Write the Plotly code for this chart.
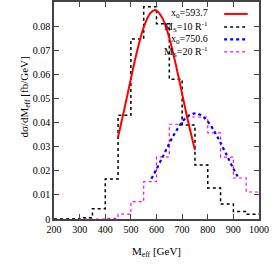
import plotly.graph_objects as go

# Histogram bin edges (GeV)
edges = list(range(200, 1001, 50))
# M_S = 10 R^-1 histogram (black dotted)
ms10_vals = [0.0, 0.0, 0.0005, 0.0043, 0.0166, 0.043, 0.0747, 0.088,
             0.081, 0.058, 0.039, 0.0224, 0.0129, 0.0062, 0.0031, 0.002]
# M_S = 20 R^-1 histogram (magenta dotted)
ms20_vals = [0.0, 0.0, 0.0, 0.0, 0.0003, 0.002, 0.0072, 0.0155,
             0.0258, 0.0393, 0.0423, 0.0423, 0.0357, 0.0257, 0.017, 0.0112]

# Gaussian fit x0=593.7 (red)
fit1_x = [450, 475, 500, 525, 550, 575, 593.7, 600, 625, 650, 675, 700, 725, 750]
fit1_y = [0.034, 0.0458, 0.0582, 0.070, 0.0795, 0.0853, 0.0867, 0.0865,
          0.0829, 0.0751, 0.0642, 0.0519, 0.0397, 0.0286]
# Gaussian fit x0=750.6 (blue)
fit2_x = [580, 600, 620, 640, 660, 680, 700, 720, 740, 750.6, 760, 780, 800,
          820, 840, 860, 880, 900, 920]
fit2_y = [0.0167, 0.0207, 0.0249, 0.0292, 0.0334, 0.0371, 0.0402, 0.0425,
          0.0436, 0.0438, 0.0437, 0.0426, 0.0404, 0.0374, 0.0336, 0.0295,
          0.0252, 0.0209, 0.0170]

x_ticks = [200, 300, 400, 500, 600, 700, 800, 900, 1000]
y_ticks = [0, 0.01, 0.02, 0.03, 0.04, 0.05, 0.06, 0.07, 0.08, 0.09]

legend_labels = ["x<sub>0</sub>=593.7", "M<sub>S</sub>=10 R<sup>-1</sup>",
                 "x<sub>0</sub>=750.6", "M<sub>S</sub>=20 R<sup>-1</sup>"]
colors = ["#ff0000", "#000000", "#0000ff", "#ff00ff"]
dashes = ["solid", "dot", "dot", "dot"]
widths = [2, 1.5, 2.2, 1.2]


def steps(vals):
    return edges, vals + [vals[-1]]


FONT = "Liberation Serif"
fig = go.Figure()
hx, hy = steps(ms20_vals)
fig.add_trace(go.Scatter(x=hx, y=hy, mode="lines", line_shape="hv",
                         line=dict(color=colors[3], width=widths[3], dash=dashes[3])))
fig.add_trace(go.Scatter(x=fit2_x, y=fit2_y, mode="lines", line_shape="spline",
                         line=dict(color=colors[2], width=widths[2], dash=dashes[2])))
hx, hy = steps(ms10_vals)
fig.add_trace(go.Scatter(x=hx, y=hy, mode="lines", line_shape="hv",
                         line=dict(color=colors[1], width=widths[1], dash=dashes[1])))
fig.add_trace(go.Scatter(x=fit1_x, y=fit1_y, mode="lines", line_shape="spline",
                         line=dict(color=colors[0], width=widths[0], dash=dashes[0])))

# legend drawn gnuplot-style: text right-aligned, sample line to the right
shapes = []
annotations = []
row_y = [0.945, 0.885, 0.828, 0.770]
for i in range(4):
    annotations.append(dict(xref="paper", yref="paper", x=0.76, y=row_y[i],
                            text=legend_labels[i], showarrow=False, xanchor="right",
                            yanchor="middle", font=dict(family=FONT, size=10, color="#000")))
    shapes.append(dict(type="line", xref="paper", yref="paper", x0=0.83, x1=0.945,
                       y0=row_y[i], y1=row_y[i],
                       line=dict(color=colors[i], width=widths[i], dash=dashes[i])))

# axis titles
annotations.append(dict(xref="paper", yref="paper", x=-0.141, y=0.56,
                        text="dσ/dM<sub>eff</sub> [fb/GeV]", showarrow=False,
                        textangle=-90, xanchor="center", yanchor="middle",
                        font=dict(family=FONT, size=11, color="#000")))
annotations.append(dict(xref="paper", yref="paper", x=0.5, y=-0.152,
                        text="M<sub>eff</sub> [GeV]", showarrow=False,
                        xanchor="center", yanchor="middle",
                        font=dict(family=FONT, size=11, color="#000")))

axis_common = dict(showline=True, linecolor="#444", linewidth=1.5, mirror="ticks",
                   ticks="inside", ticklen=5, tickcolor="#444", showgrid=False,
                   zeroline=False, automargin=False,
                   tickfont=dict(family=FONT, size=10, color="#000"))
fig.update_layout(
    width=273, height=273,
    margin=dict(l=54, r=14, t=2, b=54, autoexpand=False),
    paper_bgcolor="white", plot_bgcolor="white",
    showlegend=False,
    shapes=shapes, annotations=annotations,
    xaxis=dict(range=[200, 1000], tickvals=x_ticks, **axis_common),
    yaxis=dict(range=[0, 0.09001], tickvals=y_ticks,
               ticktext=["0"] + [f"{v:.2f}" for v in y_ticks[1:]],
               **axis_common),
)
fig.write_html("out.html", config={"displayModeBar": False},
               post_script="document.body.style.margin='0px';document.body.style.overflow='hidden';")
